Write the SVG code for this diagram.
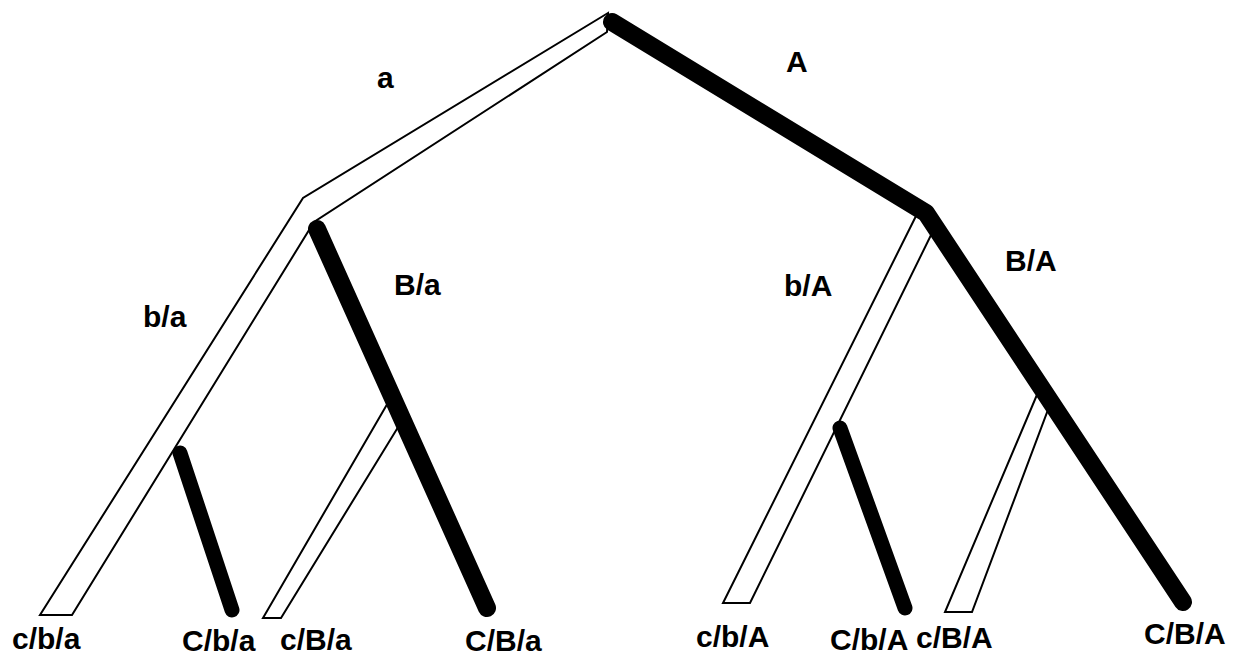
<svg xmlns="http://www.w3.org/2000/svg" width="1241" height="657" viewBox="0 0 1241 657">
<style>
.band{fill:#fff;stroke:#000;stroke-width:2;stroke-linejoin:miter}
.thick{fill:none;stroke:#000;stroke-width:18;stroke-linecap:round;stroke-linejoin:round}
.mid{fill:none;stroke:#000;stroke-width:15;stroke-linecap:round}
.lbl{font-family:"Liberation Sans",Arial,sans-serif;font-weight:bold;font-size:30px;fill:#000}
</style>
<rect width="1241" height="657" fill="#fff"/>
<g id="connectors">
  <polygon id="branch-a-b-a" class="band" points="608,13 303,198 40,615 72,615 314,222 607,32"/>
  <polygon id="branch-c-B-a" class="band" points="389,401 263,618 281,618 400,424"/>
  <polygon id="branch-b-A" class="band" points="917,214 723,603 750,603 934,229"/>
  <polygon id="branch-c-B-A" class="band" points="1039,390 945,612 972,612 1049,407"/>
  <polyline id="branch-A-B-A" class="thick" points="612,22 926,213 1183,602"/>
  <line id="branch-B-a" class="thick" x1="317" y1="229" x2="487" y2="608"/>
  <line id="branch-C-b-a" class="mid" x1="180" y1="453" x2="232" y2="610"/>
  <line id="branch-C-b-A" class="mid" x1="840" y1="428" x2="905" y2="608"/>
</g>
<g id="branch-labels">
  <text class="lbl" x="377" y="88">a</text>
  <text class="lbl" x="786" y="72">A</text>
  <text class="lbl" x="143" y="327">b/a</text>
  <text class="lbl" x="394" y="295">B/a</text>
  <text class="lbl" x="784" y="296">b/A</text>
  <text class="lbl" x="1005" y="271">B/A</text>
</g>
<g id="leaf-c-b-a"><text class="lbl" x="12" y="649">c/b/a</text></g>
<g id="leaf-C-b-a"><text class="lbl" x="182" y="651">C/b/a</text></g>
<g id="leaf-c-B-a"><text class="lbl" x="280" y="650">c/B/a</text></g>
<g id="leaf-C-B-a"><text class="lbl" x="465" y="651">C/B/a</text></g>
<g id="leaf-c-b-A"><text class="lbl" x="696" y="647">c/b/A</text></g>
<g id="leaf-C-b-A"><text class="lbl" x="830" y="650">C/b/A</text></g>
<g id="leaf-c-B-A"><text class="lbl" x="916" y="648">c/B/A</text></g>
<g id="leaf-C-B-A"><text class="lbl" x="1144" y="644">C/B/A</text></g>
</svg>
